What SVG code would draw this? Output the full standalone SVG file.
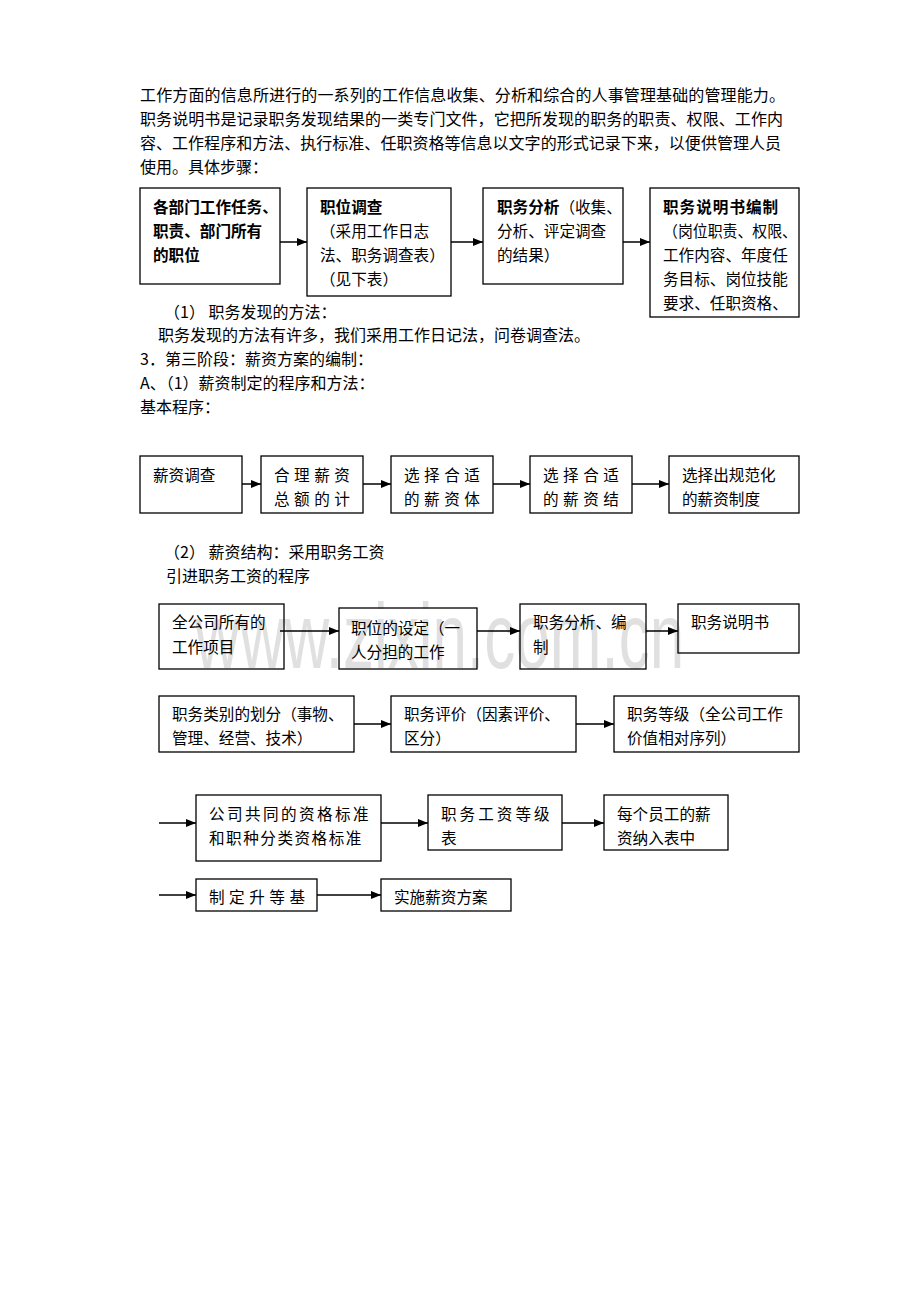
<svg xmlns="http://www.w3.org/2000/svg" width="920" height="1302" viewBox="0 0 920 1302">
<style>
text{font-family:"Noto Sans CJK SC","Noto Sans",sans-serif;fill:#000;}
.p{font-size:16px;}
.t{font-size:15.6px;}
.b{font-weight:bold;}
.box{fill:none;stroke:#000;stroke-width:1.3;}
.arr{stroke:#000;stroke-width:1.5;fill:none;marker-end:url(#ah);}
.wm{font-family:"Liberation Sans",Arial,sans-serif;font-size:62px;fill:#e0e0e0;}
</style>
<defs>
<marker id="ah" markerWidth="10" markerHeight="8" refX="10" refY="4" orient="auto" markerUnits="userSpaceOnUse">
<path d="M0,0 L10,4 L0,8 Z" fill="#000"/>
</marker>
</defs>
<rect width="920" height="1302" fill="#fff"/>
<g id="watermark"><text class="wm" transform="translate(195,668) scale(1,1.5)">www.zixin.com.cn</text></g>
<g id="intro">
<text class="p" x="140" y="101" textLength="645" lengthAdjust="spacing">工作方面的信息所进行的一系列的工作信息收集、分析和综合的人事管理基础的管理能力。</text>
<text class="p" x="140" y="125" textLength="643" lengthAdjust="spacing">职务说明书是记录职务发现结果的一类专门文件，它把所发现的职务的职责、权限、工作内</text>
<text class="p" x="140" y="149" textLength="641" lengthAdjust="spacing">容、工作程序和方法、执行标准、任职资格等信息以文字的形式记录下来，以便供管理人员</text>
<text class="p" x="140" y="173">使用。具体步骤：</text>
</g>
<g id="connectors">
<line class="arr" x1="280" y1="242" x2="307" y2="242"/>
<line class="arr" x1="451" y1="242" x2="483" y2="242"/>
<line class="arr" x1="623" y1="242" x2="650" y2="242"/>
<line class="arr" x1="242" y1="484" x2="261" y2="484"/>
<line class="arr" x1="363" y1="484" x2="391" y2="484"/>
<line class="arr" x1="493" y1="484" x2="530" y2="484"/>
<line class="arr" x1="632" y1="484" x2="669" y2="484"/>
<line class="arr" x1="280" y1="631" x2="339" y2="631"/>
<line class="arr" x1="477" y1="631" x2="520" y2="631"/>
<line class="arr" x1="646" y1="631" x2="678" y2="631"/>
<line class="arr" x1="354" y1="724" x2="391" y2="724"/>
<line class="arr" x1="576" y1="724" x2="614" y2="724"/>
<line class="arr" x1="159" y1="823" x2="196" y2="823"/>
<line class="arr" x1="381" y1="823" x2="428" y2="823"/>
<line class="arr" x1="562" y1="823" x2="604" y2="823"/>
<line class="arr" x1="159" y1="895" x2="196" y2="895"/>
<line class="arr" x1="317" y1="895" x2="381" y2="895"/>
</g>
<g id="n1"><rect class="box" x="140" y="188" width="140" height="96"/>
<text class="t b" x="153" y="213">各部门工作任务、</text>
<text class="t b" x="153" y="237">职责、部门所有</text>
<text class="t b" x="153" y="261">的职位</text></g>
<g id="n2"><rect class="box" x="307" y="188" width="144" height="108"/>
<text class="t" x="320" y="213"><tspan class="b">职位调查</tspan></text>
<text class="t" x="320" y="237">（采用工作日志</text>
<text class="t" x="320" y="261">法、职务调查表）</text>
<text class="t" x="320" y="285">（见下表）</text></g>
<g id="n3"><rect class="box" x="483" y="188" width="140" height="96"/>
<text class="t" x="497" y="213"><tspan class="b">职务分析</tspan>（收集、</text>
<text class="t" x="497" y="237">分析、评定调查</text>
<text class="t" x="497" y="261">的结果）</text></g>
<g id="n4"><rect class="box" x="650" y="188" width="149" height="129"/>
<text class="t b" x="663" y="213" letter-spacing="1">职务说明书编制</text>
<text class="t" x="663" y="237" textLength="134" lengthAdjust="spacingAndGlyphs">（岗位职责、权限、</text>
<text class="t" x="663" y="261">工作内容、年度任</text>
<text class="t" x="663" y="285">务目标、岗位技能</text>
<text class="t" x="663" y="309">要求、任职资格、</text></g>
<g id="mid">
<text class="p" x="164" y="318">（1） 职务发现的方法：</text>
<text class="p" x="158" y="341">职务发现的方法有许多，我们采用工作日记法，问卷调查法。</text>
<text class="p" x="140" y="365">3．第三阶段：薪资方案的编制：</text>
<text class="p" x="140" y="389">A、（1）薪资制定的程序和方法：</text>
<text class="p" x="140" y="413">基本程序：</text>
</g>
<g id="s1"><rect class="box" x="140" y="456" width="102" height="57"/>
<text class="t" x="153" y="481">薪资调查</text></g>
<g id="s2"><rect class="box" x="261" y="456" width="102" height="57"/>
<text class="t" x="274" y="481" letter-spacing="4.5">合理薪资</text>
<text class="t" x="274" y="505" letter-spacing="4.5">总额的计</text></g>
<g id="s3"><rect class="box" x="391" y="456" width="102" height="57"/>
<text class="t" x="404" y="481" letter-spacing="4.5">选择合适</text>
<text class="t" x="404" y="505" letter-spacing="4.5">的薪资体</text></g>
<g id="s4"><rect class="box" x="530" y="456" width="102" height="57"/>
<text class="t" x="543" y="481" letter-spacing="4.5">选择合适</text>
<text class="t" x="543" y="505" letter-spacing="4.5">的薪资结</text></g>
<g id="s5"><rect class="box" x="669" y="456" width="130" height="57"/>
<text class="t" x="682" y="481">选择出规范化</text>
<text class="t" x="682" y="505">的薪资制度</text></g>
<g id="mid2">
<text class="p" x="164" y="558">（2） 薪资结构：采用职务工资</text>
<text class="p" x="166" y="582">引进职务工资的程序</text>
</g>
<g id="r1"><rect class="box" x="159" y="604" width="125" height="65"/>
<text class="t" x="172" y="628">全公司所有的</text>
<text class="t" x="172" y="653">工作项目</text></g>
<g id="r2"><rect class="box" x="339" y="608" width="138" height="61"/>
<text class="t" x="351" y="634">职位的设定（一</text>
<text class="t" x="351" y="658">人分担的工作</text></g>
<g id="r3"><rect class="box" x="520" y="604" width="126" height="65"/>
<text class="t" x="533" y="628">职务分析、编</text>
<text class="t" x="533" y="653">制</text></g>
<g id="r4"><rect class="box" x="678" y="604" width="121" height="49"/>
<text class="t" x="691" y="628">职务说明书</text></g>
<g id="q1"><rect class="box" x="159" y="696" width="195" height="56"/>
<text class="t" x="172" y="720">职务类别的划分（事物、</text>
<text class="t" x="172" y="744">管理、经营、技术）</text></g>
<g id="q2"><rect class="box" x="391" y="696" width="185" height="56"/>
<text class="t" x="404" y="720">职务评价（因素评价、</text>
<text class="t" x="404" y="744">区分）</text></g>
<g id="q3"><rect class="box" x="614" y="696" width="185" height="56"/>
<text class="t" x="627" y="720">职务等级（全公司工作</text>
<text class="t" x="627" y="744">价值相对序列）</text></g>
<g id="u1"><rect class="box" x="196" y="795" width="185" height="66"/>
<text class="t" x="209" y="820" letter-spacing="2.4">公司共同的资格标准</text>
<text class="t" x="209" y="844" letter-spacing="1.5">和职种分类资格标准</text></g>
<g id="u2"><rect class="box" x="428" y="795" width="134" height="55"/>
<text class="t" x="441" y="820" letter-spacing="3">职务工资等级</text>
<text class="t" x="441" y="844">表</text></g>
<g id="u3"><rect class="box" x="604" y="795" width="124" height="55"/>
<text class="t" x="617" y="820">每个员工的薪</text>
<text class="t" x="617" y="844">资纳入表中</text></g>
<g id="v1"><rect class="box" x="196" y="879" width="121" height="32"/>
<text class="t" x="209" y="903" letter-spacing="4.5">制定升等基</text></g>
<g id="v2"><rect class="box" x="381" y="879" width="130" height="32"/>
<text class="t" x="394" y="903">实施薪资方案</text></g>
</svg>
